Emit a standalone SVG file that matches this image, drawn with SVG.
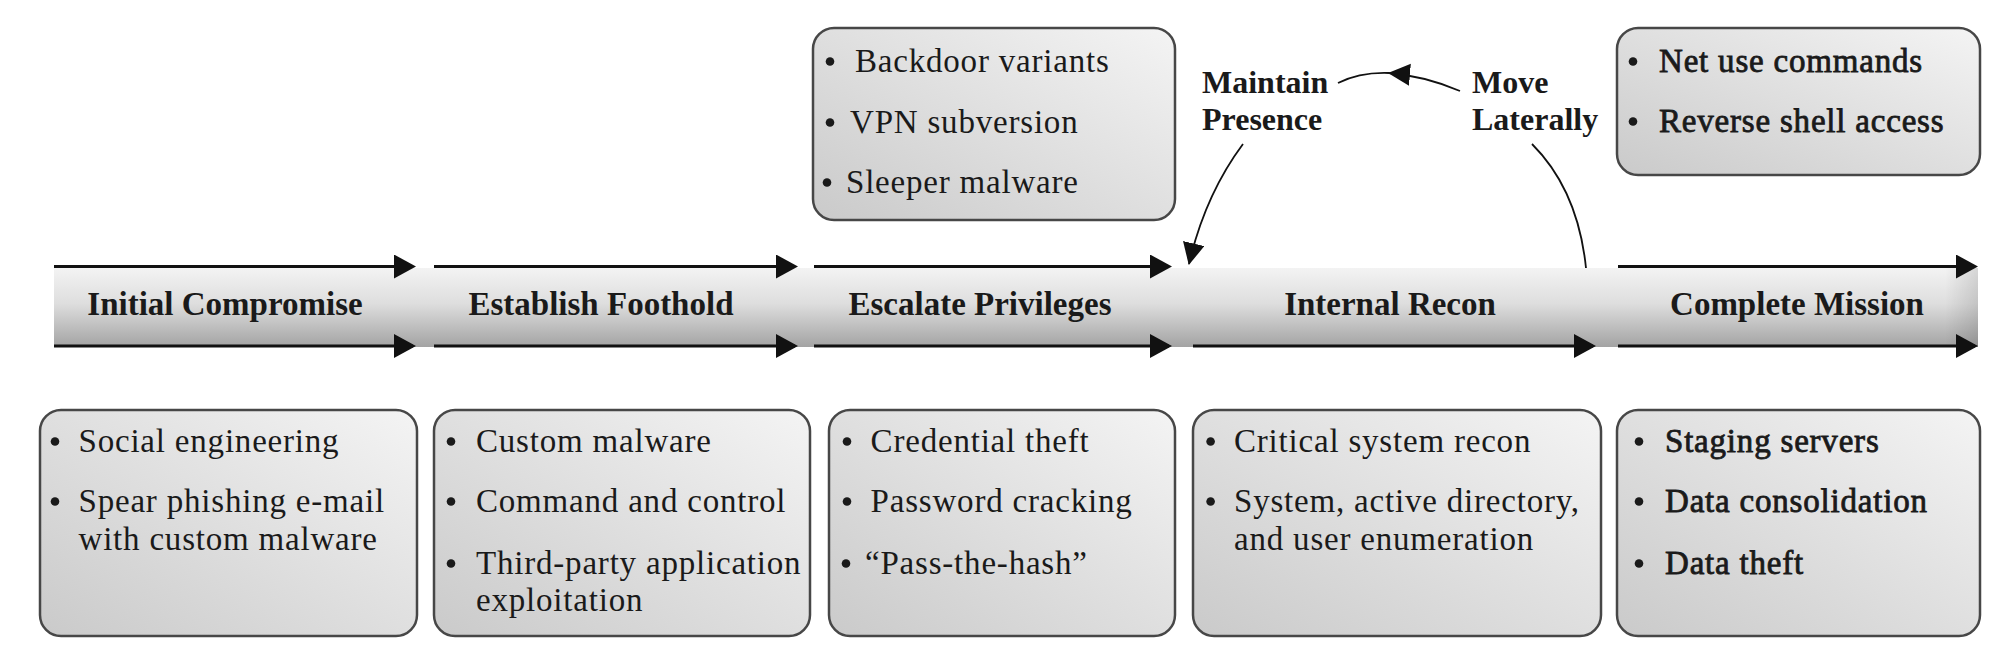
<svg xmlns="http://www.w3.org/2000/svg" width="2000" height="663" viewBox="0 0 2000 663">
<defs>
<linearGradient id="bandGrad" x1="0" y1="0" x2="0" y2="1">
<stop offset="0" stop-color="#f3f3f3"/>
<stop offset="0.45" stop-color="#dedede"/>
<stop offset="1" stop-color="#a3a3a3"/>
</linearGradient>
<linearGradient id="boxGrad" x1="0" y1="1" x2="1" y2="0">
<stop offset="0" stop-color="#cacaca"/>
<stop offset="1" stop-color="#f4f4f4"/>
</linearGradient>
<linearGradient id="endShade" x1="0" y1="0" x2="1" y2="0">
<stop offset="0" stop-color="#000" stop-opacity="0"/>
<stop offset="1" stop-color="#000" stop-opacity="0.12"/>
</linearGradient>
<marker id="ah" markerUnits="userSpaceOnUse" markerWidth="24" markerHeight="26" refX="19" refY="12" orient="auto">
<path d="M0,0 L22,12 L0,24 Z" fill="#111"/>
</marker>
<marker id="ah2" markerUnits="userSpaceOnUse" markerWidth="24" markerHeight="24" refX="21" refY="11" orient="auto">
<path d="M0,0 L22,11 L0,22 Z" fill="#111"/>
</marker>
<style>
.box{fill:url(#boxGrad);stroke:#474747;stroke-width:2.5}
.stage{font-family:"Liberation Serif","Times New Roman",serif;font-weight:bold;font-size:33px;fill:#1a1a1a;text-anchor:middle}
.item{font-family:"Liberation Serif","Times New Roman",serif;font-size:33px;letter-spacing:0.8px;fill:#1a1a1a}
.itemb{font-family:"Liberation Serif","Times New Roman",serif;font-size:33px;letter-spacing:0.8px;fill:#1a1a1a;stroke:#1a1a1a;stroke-width:0.8px}
.bul{fill:#1a1a1a}
.lbl{font-family:"Liberation Serif","Times New Roman",serif;font-weight:bold;font-size:32px;fill:#1a1a1a}
.flow{stroke:#111;stroke-width:3;fill:none;marker-end:url(#ah)}
.curve{stroke:#111;stroke-width:1.8;fill:none}
</style>
</defs>
<rect width="2000" height="663" fill="#ffffff"/>

<g id="band">
<rect x="54" y="268" width="1924" height="79" fill="url(#bandGrad)"/>
<rect x="1945" y="268" width="33" height="79" fill="url(#endShade)"/>
</g>

<g id="connectors">
<line class="flow" x1="54" y1="266.5" x2="413" y2="266.5"/>
<line class="flow" x1="54" y1="346" x2="413" y2="346"/>
<line class="flow" x1="434" y1="266.5" x2="795" y2="266.5"/>
<line class="flow" x1="434" y1="346" x2="795" y2="346"/>
<line class="flow" x1="814" y1="266.5" x2="1169" y2="266.5"/>
<line class="flow" x1="814" y1="346" x2="1169" y2="346"/>
<line class="flow" x1="1193" y1="346" x2="1593" y2="346"/>
<line class="flow" x1="1618" y1="266.5" x2="1975" y2="266.5"/>
<line class="flow" x1="1618" y1="346" x2="1975" y2="346"/>
<path class="curve" d="M1460,91 Q1425,76 1389,73" marker-end="url(#ah2)"/>
<path class="curve" d="M1389,73 Q1360,72 1338,83"/>
<path class="curve" d="M1243,144 Q1205,195 1189,264" marker-end="url(#ah2)"/>
<path class="curve" d="M1532,144 Q1578,190 1586,268"/>
</g>

<g id="stage-initial-compromise"><text class="stage" x="225" y="315">Initial Compromise</text></g>
<g id="stage-establish-foothold"><text class="stage" x="601" y="315">Establish Foothold</text></g>
<g id="stage-escalate-privileges"><text class="stage" x="980" y="315">Escalate Privileges</text></g>
<g id="stage-internal-recon"><text class="stage" x="1390" y="315">Internal Recon</text></g>
<g id="stage-complete-mission"><text class="stage" x="1797" y="315">Complete Mission</text></g>

<g id="label-maintain-presence">
<text class="lbl" x="1202" y="93">Maintain</text>
<text class="lbl" x="1202" y="130">Presence</text>
</g>
<g id="label-move-laterally">
<text class="lbl" x="1472" y="93">Move</text>
<text class="lbl" x="1472" y="130">Laterally</text>
</g>

<g id="box-persistence">
<rect class="box" x="813" y="28" width="362" height="192" rx="21"/>
<circle class="bul" cx="830" cy="61.5" r="4.3"/><text class="item" x="855" y="72">Backdoor variants</text>
<circle class="bul" cx="830" cy="122.5" r="4.3"/><text class="item" x="850" y="133">VPN subversion</text>
<circle class="bul" cx="827" cy="182.5" r="4.3"/><text class="item" x="846" y="193">Sleeper malware</text>
</g>

<g id="box-lateral">
<rect class="box" x="1617" y="28" width="363" height="147" rx="21"/>
<circle class="bul" cx="1633" cy="61.5" r="4.3"/><text class="itemb" x="1659" y="72">Net use commands</text>
<circle class="bul" cx="1633" cy="121.5" r="4.3"/><text class="itemb" x="1659" y="132">Reverse shell access</text>
</g>

<g id="box-initial-compromise">
<rect class="box" x="40" y="410" width="377" height="226" rx="21"/>
<circle class="bul" cx="55" cy="441.5" r="4.3"/><text class="item" x="78.5" y="452">Social engineering</text>
<circle class="bul" cx="55" cy="501.5" r="4.3"/><text class="item" x="78.5" y="512">Spear phishing e-mail</text>
<text class="item" x="78.5" y="550">with custom malware</text>
</g>

<g id="box-establish-foothold">
<rect class="box" x="434" y="410" width="376" height="226" rx="21"/>
<circle class="bul" cx="451" cy="441.5" r="4.3"/><text class="item" x="476" y="452">Custom malware</text>
<circle class="bul" cx="451" cy="501.5" r="4.3"/><text class="item" x="476" y="512">Command and control</text>
<circle class="bul" cx="451" cy="563.5" r="4.3"/><text class="item" x="476" y="574">Third-party application</text>
<text class="item" x="476" y="611">exploitation</text>
</g>

<g id="box-escalate-privileges">
<rect class="box" x="829" y="410" width="346" height="226" rx="21"/>
<circle class="bul" cx="847" cy="441.5" r="4.3"/><text class="item" x="870.6" y="452">Credential theft</text>
<circle class="bul" cx="847" cy="501.5" r="4.3"/><text class="item" x="870.6" y="512">Password cracking</text>
<circle class="bul" cx="846" cy="563.5" r="4.3"/><text class="item" x="865" y="574">“Pass-the-hash”</text>
</g>

<g id="box-internal-recon">
<rect class="box" x="1193" y="410" width="408" height="226" rx="21"/>
<circle class="bul" cx="1210.6" cy="441.5" r="4.3"/><text class="item" x="1234" y="452">Critical system recon</text>
<circle class="bul" cx="1210.6" cy="501.5" r="4.3"/><text class="item" x="1234" y="512">System, active directory,</text>
<text class="item" x="1234" y="550">and user enumeration</text>
</g>

<g id="box-complete-mission">
<rect class="box" x="1617" y="410" width="363" height="226" rx="21"/>
<circle class="bul" cx="1639" cy="441.5" r="4.3"/><text class="itemb" x="1665" y="452">Staging servers</text>
<circle class="bul" cx="1639" cy="501.5" r="4.3"/><text class="itemb" x="1665" y="512">Data consolidation</text>
<circle class="bul" cx="1639" cy="563.5" r="4.3"/><text class="itemb" x="1665" y="574">Data theft</text>
</g>
</svg>
